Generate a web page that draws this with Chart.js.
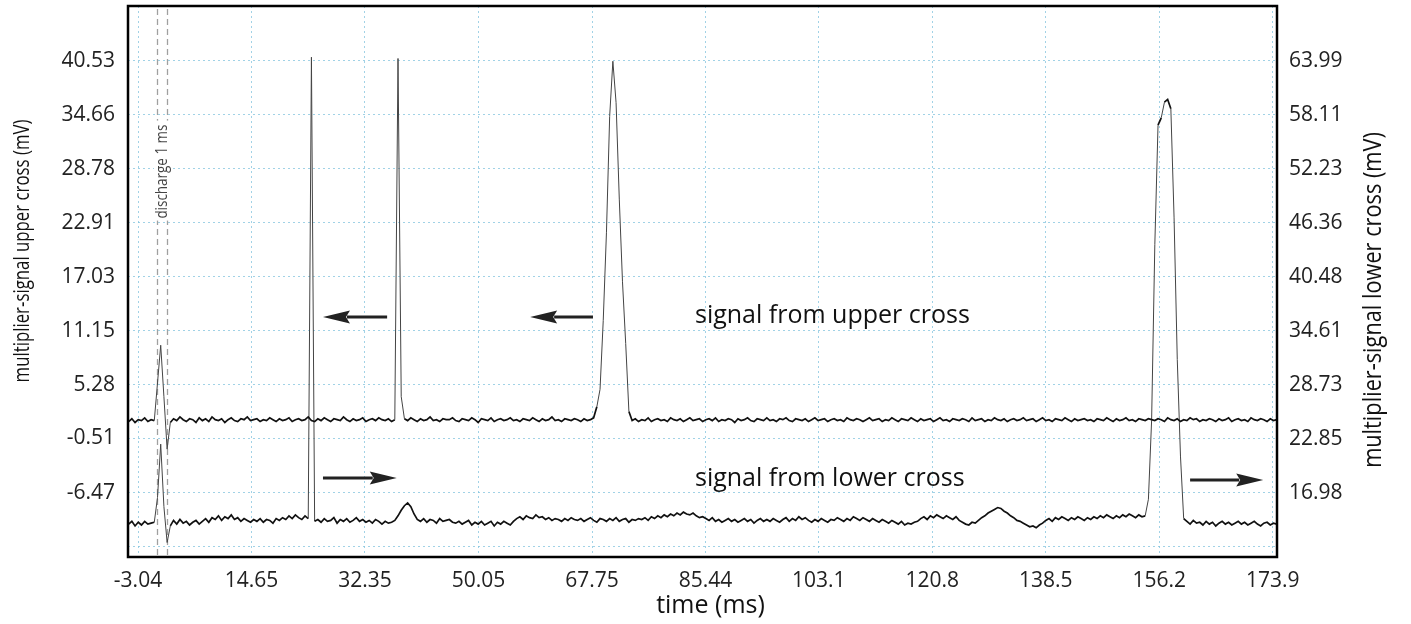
<!DOCTYPE html>
<html>
<head>
<meta charset="utf-8">
<script src="https://cdn.jsdelivr.net/npm/chart.js@4.4.1/dist/chart.umd.min.js"></script>
<style>
  html, body { margin: 0; padding: 0; background: #fff; }
</style>
</head>
<body>
<canvas id="signalChart" width="1411" height="624"></canvas>
<script>
// sampling grid of both traces (ms)
const tStart = -4.5;
const tStep = 0.5;

// multiplier signal, upper cross (mV, left axis) - one value per 0.5 ms, 10 ms per row
const upperSignal = [
  1.3,1.6,1.2,1.5,1.4,1.7,1.3,1.5,1.4,5.5,9.6,4.0,-1.7,1.2,1.6,1.4,1.8,1.5,1.3,1.6,
  1.5,1.2,1.7,1.4,1.6,1.3,1.8,1.5,1.4,1.6,1.2,1.5,1.7,1.4,1.3,1.6,1.5,1.8,1.4,1.5,
  1.6,1.3,1.5,1.4,1.7,1.5,1.3,1.6,1.4,1.5,1.7,1.3,1.5,1.6,1.4,1.5,1.8,1.4,1.3,1.6,
  1.4,1.7,1.5,1.3,1.6,1.5,1.4,1.8,1.5,1.3,1.6,1.4,1.5,1.7,1.3,1.5,1.6,1.4,1.7,1.5,
  1.4,1.6,1.3,1.5,40.8,4.0,1.6,1.4,1.7,1.5,1.3,1.6,1.4,1.5,1.8,1.4,1.5,1.3,1.6,1.5,
  1.5,1.7,1.4,1.3,1.6,1.5,1.4,1.7,1.5,1.2,1.6,1.5,1.4,1.7,1.3,1.5,1.6,1.4,1.5,1.7,
  1.4,1.5,1.3,1.6,1.5,1.4,1.7,1.5,1.3,1.6,1.4,1.5,1.8,1.4,1.5,1.3,1.6,1.5,1.4,1.6,
  1.5,1.3,1.6,1.4,1.5,1.7,2.9,4.8,12.3,21.9,34.5,40.5,36.0,25.5,16.5,9.8,2.4,1.4,1.6,1.3,
  1.5,1.4,1.7,1.3,1.5,1.6,1.4,1.5,1.3,1.7,1.5,1.4,1.6,1.3,1.5,1.7,1.4,1.5,1.6,1.3,
  1.5,1.6,1.4,1.7,1.3,1.5,1.4,1.6,1.5,1.2,1.6,1.4,1.5,1.7,1.4,1.3,1.6,1.5,1.4,1.7,
  1.4,1.5,1.3,1.6,1.5,1.7,1.4,1.3,1.6,1.5,1.4,1.6,1.3,1.5,1.7,1.4,1.5,1.6,1.3,1.5,
  1.6,1.4,1.5,1.3,1.7,1.5,1.4,1.6,1.5,1.3,1.5,1.7,1.4,1.5,1.6,1.3,1.5,1.4,1.7,1.5,
  1.3,1.6,1.5,1.4,1.7,1.5,1.3,1.6,1.4,1.5,1.6,1.3,1.5,1.7,1.4,1.5,1.3,1.6,1.5,1.4,
  1.6,1.5,1.3,1.7,1.4,1.5,1.6,1.3,1.5,1.4,1.7,1.5,1.4,1.6,1.3,1.5,1.6,1.4,1.5,1.7,
  1.4,1.5,1.6,1.3,1.5,1.7,1.4,1.5,1.3,1.6,1.5,1.4,1.7,1.5,1.3,1.6,1.4,1.5,1.6,1.4,
  1.5,1.3,1.6,1.5,1.4,1.7,1.5,1.3,1.6,1.4,1.5,1.7,1.4,1.5,1.3,1.6,1.5,1.4,1.6,1.5,
  1.4,1.6,1.5,1.3,1.7,1.5,1.4,1.6,1.3,1.5,1.4,1.7,1.5,1.6,1.3,1.5,1.4,1.6,1.5,1.3,
  1.6,1.4,1.5,1.7,1.3,1.5,1.6,1.4,1.5,1.3,1.7,1.5,1.4,1.6,1.5,1.3,1.6,1.4,1.5
];

// multiplier signal, lower cross (mV, right axis)
const lowerSignal = [
  13.6,13.9,13.4,13.8,13.5,13.9,13.6,13.7,13.8,16.5,22.3,15.5,11.6,13.4,14.0,13.6,14.1,13.7,13.9,13.5,
  13.8,14.0,13.6,13.9,14.2,13.8,14.3,14.1,14.5,14.0,14.4,14.2,14.6,14.1,14.3,13.9,14.2,14.0,13.8,14.1,
  13.9,14.2,13.8,14.1,14.0,13.7,14.2,14.0,14.3,14.1,14.5,14.2,14.6,14.3,14.1,14.5,14.2,64.4,13.9,14.1,
  13.8,14.2,13.9,14.0,14.3,13.7,14.1,13.9,14.2,13.8,14.0,14.3,13.9,14.1,13.8,14.0,13.7,14.1,13.9,13.6,
  13.9,13.7,13.8,14.0,14.5,15.1,15.6,15.9,15.5,14.7,14.1,13.9,14.2,13.8,14.1,14.0,13.7,14.2,13.9,14.0,
  14.1,13.8,13.7,13.9,13.6,13.8,14.0,13.5,13.8,13.6,13.9,13.5,13.7,13.9,13.4,13.8,13.6,13.9,13.7,13.5,
  13.9,14.2,14.4,14.1,14.5,14.3,14.2,14.6,14.3,14.4,14.1,14.3,14.0,14.2,14.1,13.9,14.2,14.0,14.3,14.1,
  14.0,14.2,13.9,14.1,14.3,14.0,13.8,14.2,14.1,13.9,14.2,14.0,14.3,13.9,14.1,14.2,13.8,14.1,14.0,14.2,
  14.1,14.3,14.0,14.4,14.2,14.5,14.3,14.6,14.4,14.7,14.5,14.8,14.6,14.9,14.7,14.6,14.8,14.5,14.3,14.4,
  14.2,14.0,14.3,13.9,14.1,13.8,14.0,14.2,13.9,14.1,13.8,14.0,14.2,13.9,14.1,13.7,14.0,14.2,13.9,14.1,
  13.9,14.2,14.0,13.8,14.1,14.3,13.9,14.2,14.0,14.4,14.1,14.3,14.0,13.8,14.1,13.9,14.2,14.0,13.8,14.1,
  14.0,14.3,14.1,13.9,14.2,14.0,14.4,14.2,14.0,14.3,14.1,13.9,14.2,14.0,13.8,14.1,13.9,13.7,14.0,13.8,
  13.6,13.9,13.5,13.7,13.6,13.8,13.9,14.2,14.4,14.1,14.5,14.3,14.6,14.4,14.2,14.5,14.3,14.1,14.4,14.0,
  13.8,13.6,13.5,13.8,13.7,14.0,14.3,14.5,14.8,15.0,15.2,15.4,15.3,15.0,14.8,14.5,14.3,14.0,13.9,13.7,
  13.5,13.3,13.4,13.2,13.5,13.7,14.0,14.2,13.9,14.3,14.1,14.4,14.2,14.0,14.3,14.1,14.4,14.2,14.0,14.3,
  14.1,14.4,14.2,14.5,14.3,14.6,14.4,14.2,14.5,14.3,14.6,14.4,14.7,14.5,14.3,14.6,14.4,14.5,16.3,24.9,
  44.0,57.0,57.8,59.5,59.8,58.8,47.0,31.5,21.0,14.2,13.9,13.6,14.0,13.7,13.8,13.5,13.9,13.6,13.8,13.4,
  13.7,13.9,13.6,13.8,13.5,13.7,13.9,13.6,13.8,13.5,13.7,13.9,13.6,13.4,13.7,13.8,13.5,13.7,13.6
];

// tick labels
const xTickValues = [-3.04, 14.65, 32.35, 50.05, 67.75, 85.44, 103.1, 120.8, 138.5, 156.2, 173.9];
const leftTickValues = [40.53, 34.66, 28.78, 22.91, 17.03, 11.15, 5.28, -0.51, -6.47, -12.35];
const leftTickLabels = ['40.53', '34.66', '28.78', '22.91', '17.03', '11.15', '5.28', '-0.51', '-6.47', ''];
const rightTickValues = [63.99, 58.11, 52.23, 46.36, 40.48, 34.61, 28.73, 22.85, 16.98];

// annotations (data units: time ms, left-axis mV)
const dischargeLines = [-0.08, 1.48];
const upperArrows = [[35.8, 25.8], [67.9, 58.1]];   // tail -> head
const lowerArrows = [[25.8, 37.3], [161.0, 172.4]];
const upperArrowY = 12.67;
const lowerArrowY = [-4.85, -5.06];
const labelText = ['signal from upper cross', 'signal from lower cross'];
const labelT = 83.8;
const labelY = [12.8, -4.9];

const times = upperSignal.map((_, i) => tStart + i * tStep);
const FONT = '"Open Sans", "Noto Sans", sans-serif';
const gridColor = 'rgba(130, 195, 222, 0.75)';

const fixAxis = (size) => (scale) => {
  if (scale.isHorizontal()) scale.height = size; else scale.width = size;
  scale.paddingTop = 0; scale.paddingBottom = 0;
  scale.paddingLeft = 0; scale.paddingRight = 0;
};

// steep edges are drawn thin and grey, the noisy baseline heavier
const steep = (c) => Math.abs(c.p1.y - c.p0.y) > 14;
const traceSegment = {
  borderWidth: (c) => (steep(c) ? 1 : 1.7),
  borderColor: (c) => (steep(c) ? '#444' : '#111'),
};

function drawArrow(ctx, x0, y0, x1, y1) {
  const dir = Math.sign(x1 - x0);
  const headLen = 27, headHalf = 6.5;
  ctx.lineWidth = 3;
  ctx.beginPath();
  ctx.moveTo(x0, y0);
  ctx.lineTo(x1 - dir * (headLen - 3), y1);
  ctx.stroke();
  ctx.beginPath();
  ctx.moveTo(x1, y1);
  ctx.lineTo(x1 - dir * headLen, y1 - headHalf);
  ctx.lineTo(x1 - dir * (headLen - 4), y1);
  ctx.lineTo(x1 - dir * headLen, y1 + headHalf);
  ctx.closePath();
  ctx.fill();
}

// rotated text, squeezed along its length
function vText(ctx, txt, cx, cy, size, squeeze) {
  ctx.save();
  ctx.translate(cx, cy);
  ctx.rotate(-Math.PI / 2);
  ctx.scale(squeeze, 1);
  ctx.font = size + 'px ' + FONT;
  ctx.textAlign = 'center';
  ctx.textBaseline = 'middle';
  ctx.fillText(txt, 0, 0);
  ctx.restore();
}

const overlay = {
  id: 'overlay',
  beforeDatasetsDraw(chart) {
    const { ctx, chartArea: a, scales: { x, y } } = chart;
    ctx.save();
    ctx.strokeStyle = '#a0a0a0';
    ctx.lineWidth = 1.3;
    ctx.setLineDash([6, 4]);
    dischargeLines.forEach(t => {
      const px = Math.round(x.getPixelForValue(t)) + 0.5;
      ctx.beginPath();
      ctx.moveTo(px, a.top + 3);
      ctx.lineTo(px, a.bottom);
      ctx.stroke();
    });
    ctx.setLineDash([]);
    // "discharge 1 ms" label between the two lines
    const cx = x.getPixelForValue((dischargeLines[0] + dischargeLines[1]) / 2);
    const cy = y.getPixelForValue(28.6);
    ctx.fillStyle = '#fff';
    ctx.fillRect(cx - 8, cy - 50, 16, 100);
    ctx.fillStyle = '#444';
    vText(ctx, 'discharge 1 ms', cx, cy + 1, 16, 0.84);
    ctx.restore();
  },
  afterDatasetsDraw(chart) {
    const { ctx, chartArea: a, scales: { x, y } } = chart;
    ctx.save();
    ctx.fillStyle = '#222';
    ctx.strokeStyle = '#222';
    upperArrows.forEach(([t0, t1]) => {
      const py = y.getPixelForValue(upperArrowY);
      drawArrow(ctx, x.getPixelForValue(t0), py, x.getPixelForValue(t1), py);
    });
    lowerArrows.forEach(([t0, t1], i) => {
      const py = y.getPixelForValue(lowerArrowY[i]);
      drawArrow(ctx, x.getPixelForValue(t0), py, x.getPixelForValue(t1), py);
    });
    ctx.fillStyle = '#111';
    ctx.font = '25px ' + FONT;
    ctx.textAlign = 'left';
    ctx.textBaseline = 'middle';
    labelText.forEach((txt, i) => {
      ctx.fillText(txt, x.getPixelForValue(labelT), y.getPixelForValue(labelY[i]));
    });
    // plot frame
    ctx.strokeStyle = '#000';
    ctx.lineWidth = 2.5;
    ctx.strokeRect(a.left, a.top, a.right - a.left, a.bottom - a.top);
    ctx.restore();
  },
  afterDraw(chart) {
    const { ctx, chartArea: a } = chart;
    ctx.save();
    ctx.fillStyle = '#111';
    ctx.textAlign = 'center';
    ctx.textBaseline = 'middle';
    ctx.font = '25px ' + FONT;
    ctx.fillText('time (ms)', (a.left + a.right) / 2 + 8, 606);
    vText(ctx, 'multiplier-signal upper cross (mV)', 23, 251, 21, 0.8);
    vText(ctx, 'multiplier-signal lower cross (mV)', 1374, 300, 25, 0.87);
    ctx.restore();
  }
};

function draw() {
  const ctx = document.getElementById('signalChart').getContext('2d');
  new Chart(ctx, {
    type: 'line',
    data: {
      datasets: [
        {
          label: 'signal from upper cross',
          data: times.map((t, i) => ({ x: t, y: upperSignal[i] })),
          yAxisID: 'y',
          borderColor: '#111',
          borderWidth: 1.7,
          pointRadius: 0,
          tension: 0,
          segment: traceSegment,
        },
        {
          label: 'signal from lower cross',
          data: times.map((t, i) => ({ x: t, y: lowerSignal[i] })),
          yAxisID: 'y2',
          borderColor: '#111',
          borderWidth: 1.7,
          pointRadius: 0,
          tension: 0,
          segment: traceSegment,
        },
      ],
    },
    options: {
      responsive: false,
      animation: false,
      devicePixelRatio: 1,
      layout: { padding: { top: 6, left: 0, right: 0, bottom: 0 } },
      plugins: {
        legend: { display: false },
        tooltip: { enabled: false },
      },
      scales: {
        x: {
          type: 'linear',
          min: -4.6,
          max: 174.55,
          afterBuildTicks: (scale) => { scale.ticks = xTickValues.map(v => ({ value: v })); },
          afterFit: fixAxis(67),
          grid: { color: gridColor, lineWidth: 1, drawTicks: false },
          border: { display: false, dash: [2, 3] },
          ticks: {
            autoSkip: false,
            maxRotation: 0,
            padding: 11,
            color: '#222',
            font: { family: FONT, size: 21 },
            callback: (value, index) => String(xTickValues[index]),
          },
        },
        y: {
          type: 'linear',
          position: 'left',
          min: -13.44,
          max: 46.51,
          afterBuildTicks: (scale) => { scale.ticks = leftTickValues.map(v => ({ value: v })); },
          afterFit: fixAxis(128),
          grid: { color: gridColor, lineWidth: 1, drawTicks: false },
          border: { display: false, dash: [2, 3] },
          ticks: {
            padding: 13,
            color: '#222',
            font: { family: FONT, size: 21 },
            callback: (value, index) => leftTickLabels[index],
          },
        },
        y2: {
          type: 'linear',
          position: 'right',
          min: 10.02,
          max: 69.97,
          afterBuildTicks: (scale) => { scale.ticks = rightTickValues.map(v => ({ value: v })); },
          afterFit: fixAxis(134),
          grid: { display: false, drawTicks: false },
          border: { display: false },
          ticks: {
            padding: 12,
            color: '#222',
            font: { family: FONT, size: 21 },
            callback: (value, index) => rightTickValues[index].toFixed(2),
          },
        },
      },
    },
    plugins: [overlay],
  });
}

document.fonts.load('20px "Open Sans"').then(draw, draw);
</script>
</body>
</html>
